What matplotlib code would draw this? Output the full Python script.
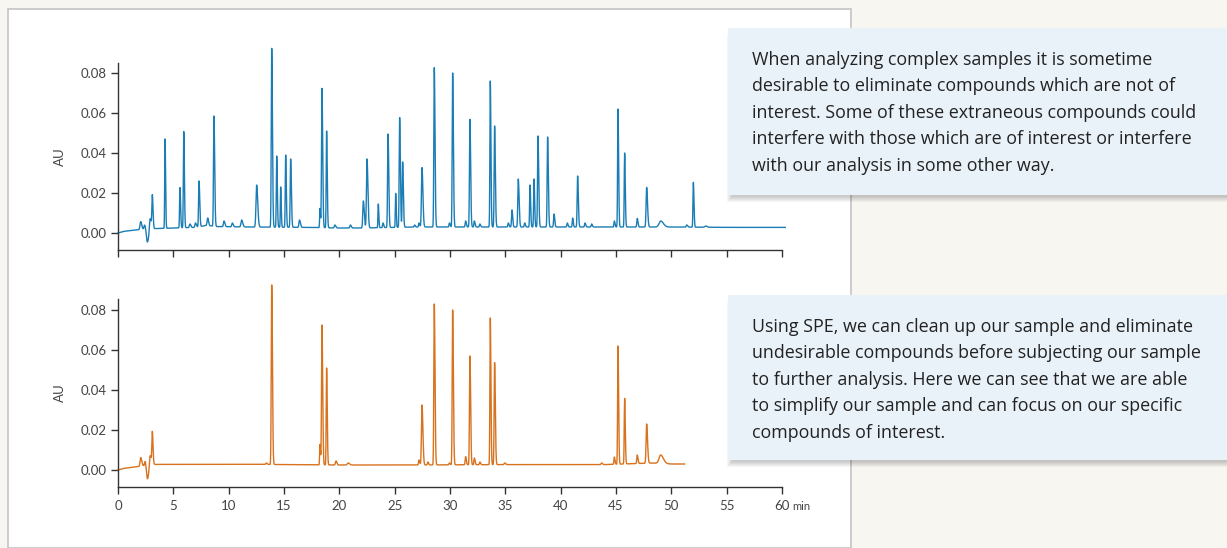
import numpy as np
import matplotlib
matplotlib.use('Agg')
import matplotlib.pyplot as plt
from matplotlib.patches import Rectangle
from matplotlib import transforms

plt.rcParams['font.family'] = ['Lato', 'DejaVu Sans']

# ---- data (retention time in min, apex in AU, width sigma in min)
time_max = 60

top_base_t = [0, 0.5, 1.5, 2.0, 3.3, 7.0, 8.0, 9.0, 12, 17, 20, 22, 27, 35, 45, 50, 55, 60.3]
top_base_y = [0, 0.0008, 0.0015, 0.0017, 0.0022, 0.0028, 0.0038, 0.0032, 0.003, 0.0028,
              0.0025, 0.0025, 0.003, 0.003, 0.003, 0.003, 0.0028, 0.0028]

top_rt = [2.05, 2.4, 2.65, 2.9, 3.1, 4.25, 5.6, 5.94, 6.5, 7.0, 7.32, 8.1, 8.67, 9.58,
          10.33, 11.17, 12.53, 13.89, 14.34, 14.7, 15.15, 15.6, 16.4, 18.25, 18.43, 18.85,
          19.6, 21.0, 22.17, 22.5, 23.52, 23.95, 24.4, 25.09, 25.45, 25.72, 26.8, 27.2,
          27.47, 28.58, 29.95, 30.24, 31.41, 31.8, 32.2, 32.7, 33.64, 34.03, 35.27, 35.6,
          36.17, 36.75, 37.23, 37.59, 37.95, 38.82, 39.4, 40.6, 41.08, 41.53, 42.2, 42.8,
          44.85, 45.18, 45.78, 46.92, 47.77, 49.04, 51.4, 51.99, 53.1]
top_apex = [0.0057, 0.004, -0.0045, 0.008, 0.0185, 0.047, 0.0227, 0.0507, 0.0045, 0.005,
            0.026, 0.0075, 0.0585, 0.006, 0.005, 0.0065, 0.024, 0.0923, 0.0385, 0.023,
            0.039, 0.037, 0.0065, 0.0123, 0.0723, 0.051, 0.004, 0.004, 0.016, 0.037, 0.0145,
            0.005, 0.0495, 0.0198, 0.0577, 0.0355, 0.004, 0.005, 0.0327, 0.0827, 0.005, 0.080,
            0.006, 0.0568, 0.006, 0.0045, 0.076, 0.0535, 0.005, 0.0115, 0.027, 0.005, 0.024,
            0.027, 0.0485, 0.048, 0.0095, 0.005, 0.0075, 0.0285, 0.005, 0.0045, 0.006, 0.062,
            0.040, 0.0073, 0.0228, 0.006, 0.004, 0.0253, 0.0035]
top_sigma = [0.06, 0.05, 0.08, 0.06, 0.04, 0.03, 0.035, 0.035, 0.05, 0.05, 0.04, 0.05, 0.04,
             0.05, 0.05, 0.06, 0.06, 0.04, 0.035, 0.03, 0.035, 0.04, 0.05, 0.03, 0.04, 0.035,
             0.05, 0.05, 0.05, 0.05, 0.03, 0.04, 0.04, 0.03, 0.04, 0.04, 0.04, 0.04, 0.05,
             0.04, 0.04, 0.04, 0.04, 0.04, 0.04, 0.04, 0.035, 0.04, 0.04, 0.04, 0.045, 0.04,
             0.035, 0.035, 0.04, 0.04, 0.04, 0.04, 0.035, 0.04, 0.04, 0.04, 0.035, 0.035,
             0.035, 0.04, 0.05, 0.15, 0.05, 0.035, 0.08]

bot_base_t = [0, 0.5, 1.5, 2.0, 3.3, 13, 20, 27, 35, 44, 48.3, 50, 51.2]
bot_base_y = [0, 0.0008, 0.0015, 0.0018, 0.0028, 0.0028, 0.0025, 0.0025, 0.0027, 0.0027,
              0.0035, 0.003, 0.003]

bot_rt = [2.05, 2.45, 2.65, 2.9, 3.1, 13.4, 13.89, 18.25, 18.43, 18.85, 19.7, 20.8, 27.2,
          27.47, 28.0, 28.58, 29.95, 30.24, 31.41, 31.8, 32.2, 32.7, 33.64, 34.03, 34.95,
          43.7, 44.85, 45.18, 45.78, 46.92, 47.77, 49.04]
bot_apex = [0.0062, 0.0045, -0.0045, 0.008, 0.0187, 0.0035, 0.0925, 0.0128, 0.0725, 0.051,
            0.0045, 0.0035, 0.005, 0.0325, 0.004, 0.083, 0.0035, 0.080, 0.0067, 0.057, 0.006,
            0.004, 0.076, 0.0537, 0.0035, 0.0035, 0.0065, 0.062, 0.0358, 0.0075, 0.023, 0.0075]
bot_sigma = [0.06, 0.05, 0.08, 0.06, 0.04, 0.05, 0.04, 0.03, 0.04, 0.035, 0.05, 0.08, 0.04,
             0.05, 0.04, 0.04, 0.04, 0.04, 0.04, 0.04, 0.04, 0.04, 0.035, 0.04, 0.05, 0.05,
             0.035, 0.035, 0.035, 0.04, 0.05, 0.15]

text_top = ("When analyzing complex samples it is sometime\n"
            "desirable to eliminate compounds which are not of\n"
            "interest. Some of these extraneous compounds could\n"
            "interfere with those which are of interest or interfere\n"
            "with our analysis in some other way.")
text_bot = ("Using SPE, we can clean up our sample and eliminate\n"
            "undesirable compounds before subjecting our sample\n"
            "to further analysis. Here we can see that we are able\n"
            "to simplify our sample and can focus on our specific\n"
            "compounds of interest.")

blue = '#1a7db5'
orange = '#d8721c'
W, H = 1227, 548


def trace(base_t, base_y, rt, apex, sigma):
    t = np.arange(0, base_t[-1], 0.005)
    y = np.interp(t, base_t, base_y)
    for r, a, s in zip(rt, apex, sigma):
        amp = a - np.interp(r, base_t, base_y)
        sd = np.where(t < r, s, s * 1.6)  # slight tailing
        y = y + amp * np.exp(-0.5 * ((t - r) / sd) ** 2)
    return t, y


def fr(x0, y0, x1, y1):
    # pixel box (top-left origin) -> figure fraction
    return [x0 / W, 1 - y1 / H, (x1 - x0) / W, (y1 - y0) / H]


def style_axes(ax, ylim, labels):
    ax.set_xlim(0, time_max)
    ax.set_ylim(*ylim)
    for s in ['top', 'right']:
        ax.spines[s].set_visible(False)
    ax.spines['bottom'].set_bounds(0, time_max)
    for s in ['left', 'bottom']:
        ax.spines[s].set_color('#333333')
        ax.spines[s].set_linewidth(1.0)
    ax.set_facecolor('none')
    ax.set_yticks([0, 0.02, 0.04, 0.06, 0.08])
    ax.set_yticklabels(['0.00', '0.02', '0.04', '0.06', '0.08'])
    ax.set_xticks(range(0, 61, 5))
    ax.tick_params(direction='out', length=5, width=1, color='#333333',
                   labelsize=9.5, labelcolor='#444444', pad=3)
    ax.tick_params(axis='x', pad=4.5)
    if not labels:
        ax.set_xticklabels([])
    ax.set_ylabel('AU', fontsize=9.5, color='#444444', labelpad=11)


fig = plt.figure(figsize=(W / 100, H / 100), dpi=100, facecolor='#f8f6f1')

# white panel behind the chart
fig.add_artist(Rectangle((8 / W, 0), 843 / W, 1 - 9 / H, transform=fig.transFigure,
                         facecolor='white', edgecolor='#c4c4c4', lw=1.2, zorder=0))

ax1 = fig.add_axes(fr(118, 63, 782, 250))
ax2 = fig.add_axes(fr(118, 299, 782, 487))

t1, y1 = trace(top_base_t, top_base_y, top_rt, top_apex, top_sigma)
t2, y2 = trace(bot_base_t, bot_base_y, bot_rt, bot_apex, bot_sigma)
ax1.plot(t1, y1, color=blue, lw=1.0, clip_on=False)
ax2.plot(t2, y2, color=orange, lw=1.0, clip_on=False)

style_axes(ax1, (-0.0085, 0.085), False)
style_axes(ax2, (-0.0085, 0.0855), True)

# 'min' unit after the last tick label
off = transforms.offset_copy(ax2.get_xaxis_transform(), fig=fig, x=10, y=-20, units='dots')
ax2.text(60, 0, 'min', transform=off, fontsize=8, color='#444444', ha='left', va='center')

# text boxes with a soft shadow
for (x0, y0, x1, y1), txt in [((728, 28, 1227, 195), text_top),
                              ((728, 295, 1227, 460), text_bot)]:
    for k in range(6):
        d = 2 + k
        fig.add_artist(Rectangle((fr(x0 + 4 - k, y0 + d, x1 + 10, y1 + d)[0],
                                  fr(x0 + 4 - k, y0 + d, x1 + 10, y1 + d)[1]),
                                 (x1 - x0 + 10) / W, (y1 - y0) / H,
                                 transform=fig.transFigure, facecolor='#000000',
                                 edgecolor='none', alpha=0.035, zorder=4))
    fig.add_artist(Rectangle(fr(x0, y0, x1, y1)[:2], (x1 - x0) / W, (y1 - y0) / H,
                             transform=fig.transFigure, facecolor='#eaf2f9',
                             edgecolor='none', zorder=5))
    fig.text(752 / W, 1 - (y0 + 23) / H, txt, fontsize=12.9, color='#222222',
             ha='left', va='top', linespacing=1.6, zorder=6,
             family=['Open Sans', 'DejaVu Sans'])

fig.savefig('out.png', dpi=100, facecolor=fig.get_facecolor())
